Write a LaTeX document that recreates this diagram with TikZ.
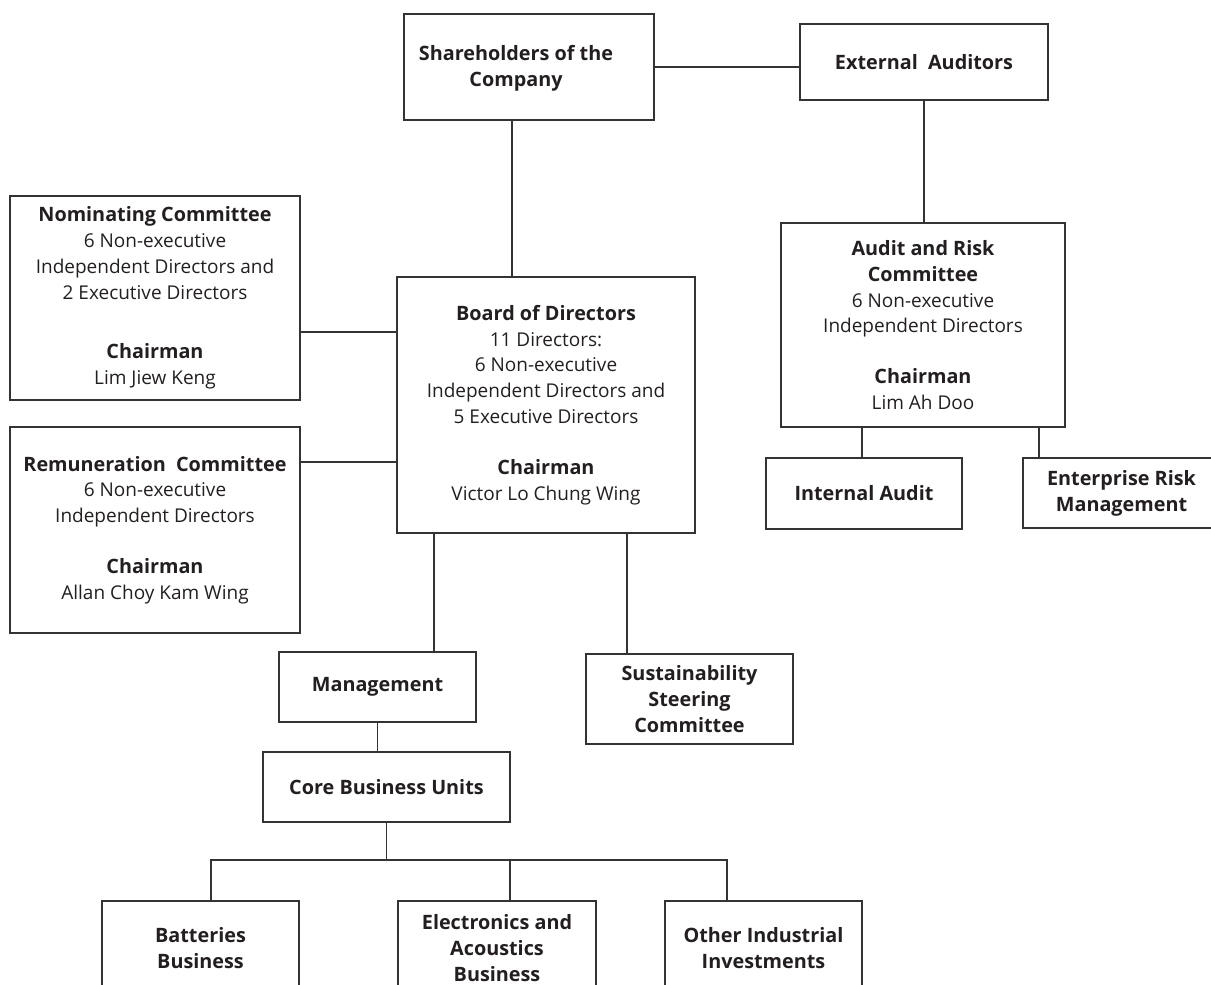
\documentclass[tikz,border=0pt]{standalone}
\usepackage{fontspec}
\setmainfont{Open Sans}
\definecolor{linec}{HTML}{333333}
\definecolor{textc}{HTML}{231F20}
\newcommand\hb[1]{{\fontsize{19.8}{25.8}\selectfont\bfseries #1}}
\begin{document}
\begin{tikzpicture}[x=1pt,y=-1pt,
  box/.style={draw=linec, line width=1.2pt, align=center, inner sep=0pt,
    font=\fontsize{19}{25.8}\selectfont, text=textc},
  txt/.style={align=center, inner sep=0pt, font=\fontsize{19}{25.8}\selectfont, text=textc},
  conn/.style={draw=linec, line width=1.2pt}]
\useasboundingbox (0,0) rectangle (1211,985);
\clip (0,0) rectangle (1211,985);

% boxes
\node[box, minimum width=250, minimum height=106] (sh) at (529,67) {};
\node[txt] (shtext) at (516,68) {\hb{Shareholders of the}\\\hb{Company}};
\node[box, minimum width=248, minimum height=76] (ext) at (924,62) {\hb{External\ \ Auditors}};
\node[box, minimum width=290, minimum height=204] (nom) at (155,298)
  {\hb{Nominating Committee}\\6 Non-executive\\Independent Directors and\\2 Executive Directors\\[34pt]\hb{Chairman}\\Lim Jiew Keng};
\node[box, minimum width=290, minimum height=206] (rem) at (155,530)
  {\hb{Remuneration\ \ Committee}\\6 Non-executive\\Independent Directors\\[25pt]\hb{Chairman}\\Allan Choy Kam Wing};
\node[box, minimum width=298, minimum height=256] (board) at (546,405)
  {\hb{Board of Directors}\\11 Directors:\\6 Non-executive\\Independent Directors and\\5 Executive Directors\\[25pt]\hb{Chairman}\\Victor Lo Chung Wing};
\node[box, minimum width=284, minimum height=204] (audit) at (923,325)
  {\hb{Audit and Risk}\\\hb{Committee}\\6 Non-executive\\Independent Directors\\[25pt]\hb{Chairman}\\Lim Ah Doo};
\node[box, minimum width=196, minimum height=71] (ia) at (864,493.5) {\hb{Internal Audit}};
\node[box, minimum width=197, minimum height=70] (erm) at (1121.5,493) {\hb{Enterprise Risk}\\\hb{Management}};
\node[box, minimum width=197, minimum height=70] (mgmt) at (377.5,687) {\hb{Management}};
\node[box, minimum width=207, minimum height=90] (sust) at (689.5,699) {\hb{Sustainability}\\\hb{Steering}\\\hb{Committee}};
\node[box, minimum width=247, minimum height=70] (core) at (386.5,787) {\hb{Core Business Units}};
\node[box, minimum width=197, minimum height=94] (bat) at (200.5,948) {\hb{Batteries}\\\hb{Business}};
\node[box, minimum width=198, minimum height=94] (ele) at (497,948) {\hb{Electronics and}\\\hb{Acoustics}\\\hb{Business}};
\node[box, minimum width=197, minimum height=94] (oth) at (763.5,948) {\hb{Other Industrial}\\\hb{Investments}};

% helper coordinates
\coordinate (xsh) at (512,0);
\coordinate (ynom) at (0,332);
\coordinate (yrem) at (0,462);
\coordinate (xmg) at (434,0);
\coordinate (xsu) at (627,0);
\coordinate (xia) at (862,0);
\coordinate (xerm) at (1039,0);
\coordinate (bus) at (0,860);
\coordinate (xb1) at (211,0);
\coordinate (xb2) at (510,0);
\coordinate (xb3) at (727,0);

% connectors
\draw[conn] (sh.east) -- (sh.east -| ext.west);
\draw[conn] (xsh |- sh.south) -- (xsh |- board.north);
\draw[conn] (ext.south) -- (ext.south |- audit.north);
\draw[conn] (nom.east |- ynom) -- (board.west |- ynom);
\draw[conn] (rem.east |- yrem) -- (board.west |- yrem);
\draw[conn] (xmg |- board.south) -- (xmg |- mgmt.north);
\draw[conn] (xsu |- board.south) -- (xsu |- sust.north);
\draw[conn] (xia |- audit.south) -- (xia |- ia.north);
\draw[conn] (xerm |- audit.south) -- (xerm |- erm.north);
\draw[conn] (mgmt.south) -- (mgmt.south |- core.north);
\draw[conn] (core.south) -- (core.south |- bus);
\draw[conn] (xb1 |- bat.north) -- (xb1 |- bus) -- (xb3 |- bus) -- (xb3 |- oth.north);
\draw[conn] (xb2 |- bus) -- (xb2 |- ele.north);
\end{tikzpicture}
\end{document}
